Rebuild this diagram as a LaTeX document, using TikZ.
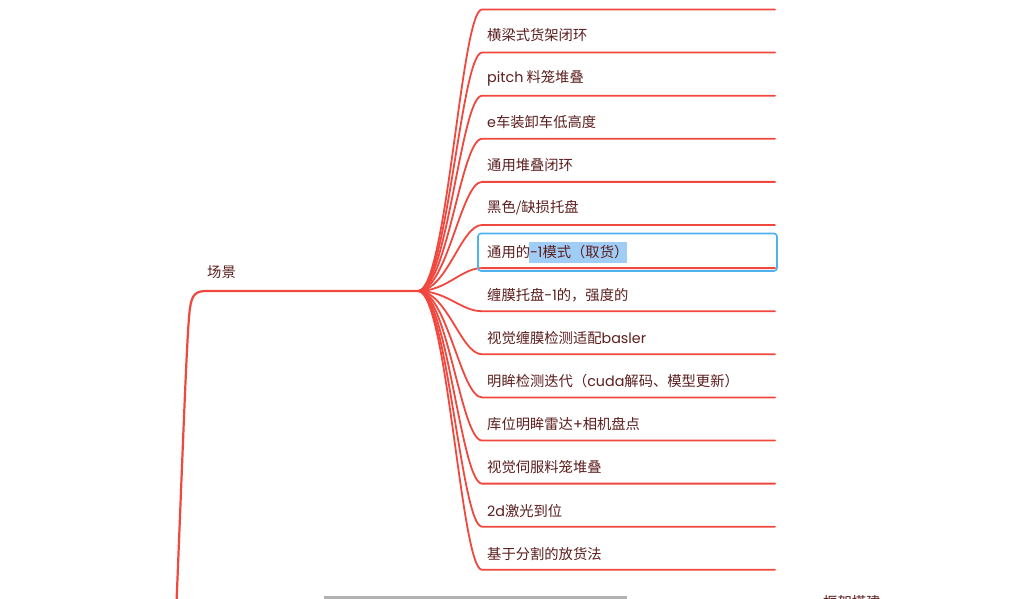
\documentclass[tikz,border=0pt]{standalone}
\usepackage{fontspec}
\setmainfont{Noto Sans CJK SC}
\newfontfamily\lat{Poppins}
\definecolor{brred}{RGB}{240,72,62}
\definecolor{txt}{RGB}{92,30,30}
\definecolor{selbox}{RGB}{77,178,238}
\definecolor{selhl}{RGB}{160,205,245}
\definecolor{scroll}{RGB}{178,178,178}
\begin{document}
\begin{tikzpicture}[x=1pt,y=-1pt,
  br/.style={draw=brred,line width=1.8pt,line cap=round},
  trunk/.style={draw=brred,line width=2.2pt},
  item/.style={anchor=west,inner sep=0pt,text=txt,font=\fontsize{14.3}{17}\selectfont},
]
\useasboundingbox (0,0) rectangle (1015,599);
\clip (0,0) rectangle (1015,599);
\fill[white] (0,0) rectangle (1015,599);
% highlight of selected text
\fill[selhl] (529,242) rectangle (627,263);
% trunk
\coordinate (rootbot) at (176,615);
\coordinate (hub) at (418,291);
\draw[trunk] (rootbot) .. controls (184,420) and (187,330) .. (190,308) .. controls (192,294) and (196,291) .. (207,291) -- (hub);
\node[item] (root) at (207,272.5) {场景};
% branches
\foreach \k in {0,...,13}{
  \pgfmathsetmacro{\y}{9.5+43.1*\k}
  \coordinate (L\k) at (482,\y);
  \coordinate (R\k) at (775,\y);
  \draw[br] (hub) .. controls (447,291) and (461,\y) .. (L\k) -- (R\k);
}
% items
\node[item] (i0) at (487,35.5) {横梁式货架闭环};
\node[item] (i1) at (487,78.6) {{\lat pitch} 料笼堆叠};
\node[item] (i2) at (487,121.7) {{\lat e}车装卸车低高度};
\node[item] (i3) at (487,164.8) {通用堆叠闭环};
\node[item] (i4) at (487,207.9) {黑色/缺损托盘};
\node[item] (i5) at (487,252) {通用的{\lat -1}模式（取货）};
\node[item] (i6) at (487,295) {缠膜托盘{\lat -1}的，强度的};
\node[item] (i7) at (487,338.2) {视觉缠膜检测适配{\lat basler}};
\node[item] (i8) at (487,381.3) {明眸检测迭代（{\lat cuda}解码、模型更新）};
\node[item] (i9) at (487,424.4) {库位明眸雷达{\lat +}相机盘点};
\node[item] (i10) at (487,467.5) {视觉伺服料笼堆叠};
\node[item] (i11) at (487,510.6) {{\lat 2d}激光到位};
\node[item] (i12) at (487,553.7) {基于分割的放货法};
% selection box
\draw[selbox,line width=1.6pt,rounded corners=3pt] (478,233.5) rectangle (777,271);
% partially visible next node
\node[item] (next) at (823,602) {框架搭建};
% scrollbar
\draw[scroll,line width=3pt] (324,597.5) -- (627,597.5);
\end{tikzpicture}
\end{document}
